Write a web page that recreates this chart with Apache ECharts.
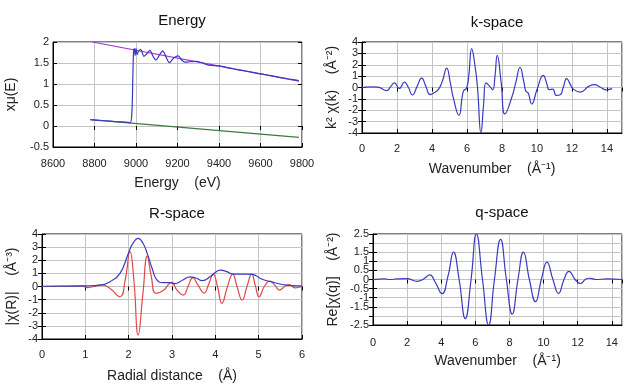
<!DOCTYPE html>
<html><head><meta charset="utf-8">
<script src="https://cdn.jsdelivr.net/npm/echarts@6/dist/echarts.min.js"></script>
<style>html,body{margin:0;padding:0;background:#fff}#c{width:640px;height:384px}</style>
</head><body><div id="c"></div>
<script>
// ---- Energy panel data ----
var energyE   = [8780,8850,8900,8950,8972,8980,8985,8988,8992,8996,9000,9005,9012,9023,9038,9052,9067,9082,9096,9112,9129,9145,9161,9182,9204,9220,9236,9260,9290,9320,9350,9400,9450,9500,9550,9600,9650,9700,9750,9785];
var energyMu  = [0.15,0.125,0.105,0.09,0.08,0.3,1.2,1.75,1.84,1.68,1.84,1.70,1.78,1.82,1.66,1.72,1.80,1.66,1.57,1.68,1.79,1.64,1.51,1.62,1.67,1.57,1.52,1.53,1.54,1.50,1.45,1.43,1.38,1.33,1.29,1.24,1.20,1.15,1.11,1.08];
var postE = [8790, 9785], postMu = [2.0, 1.07];
var preE  = [8780, 9785], preMu  = [0.15, -0.27];
// ---- k-space ----
var kK   = [0,0.5,0.9,1.41,1.65,1.85,2.13,2.42,2.65,2.88,3.15,3.41,3.65,3.89,4.1,4.36,4.6,4.84,5.05,5.22,5.54,5.79,5.98,6.1,6.27,6.45,6.6,6.8,6.95,7.09,7.3,7.47,7.6,7.73,7.95,8.17,8.55,8.8,9.03,9.25,9.37,9.5,9.7,10.0,10.36,10.55,10.7,10.9,11.1,11.33,11.5,11.7,11.9,12.05,12.47,12.96,13.3,13.6,13.94,14.3];
var kChi = [0,0.05,0.03,-0.28,0.1,0.4,-0.08,0.48,0,-0.66,0.1,0.83,0.1,-0.63,-0.48,-0.19,0.6,1.71,0.4,-0.92,-2.45,-0.34,-0.05,1.0,3.41,2.0,0,-4.0,-1.5,0.4,0.1,-0.2,1.0,2.83,0.5,-2.33,-0.92,0.5,1.78,0.5,-0.34,-0.48,-1.45,-0.2,1.07,0.4,-0.19,-0.14,-0.69,-0.63,0,0.78,0.3,-0.1,-0.4,0.1,0.25,0.05,-0.2,-0.1];
// ---- R-space ----
var rRe  = [0,0.5,0.9,1.06,1.25,1.38,1.57,1.8,1.92,2.03,2.12,2.22,2.33,2.43,2.52,2.63,2.8,2.99,3.12,3.26,3.37,3.48,3.6,3.74,3.85,3.95,4.05,4.15,4.28,4.4,4.5,4.62,4.73,4.84,4.92,5.01,5.13,5.26,5.37,5.48,5.6,5.7,5.84,6.0];
var chiRe= [0,0.02,0.05,-0.08,0.05,0.12,-0.15,-0.78,0.5,2.65,0.5,-3.7,-0.5,2.32,0.8,-0.52,-0.3,0.32,-0.3,-0.65,0,0.67,0.1,-0.5,0.2,0.95,0,-1.28,0,0.95,0,-1.03,0,0.95,0.1,-0.78,0,0.42,0.1,-0.27,0,0.15,-0.1,0];
var rMag = [0,0.5,1.0,1.34,1.57,1.8,1.99,2.1,2.22,2.33,2.43,2.55,2.65,2.8,2.95,3.06,3.25,3.42,3.55,3.7,3.9,4.12,4.25,4.4,4.7,4.85,5.08,5.3,5.54,5.77,6.0];
var chiMag=[0.02,0.03,0.05,0.1,0.37,1.0,2.5,3.3,3.67,3.3,2.5,1.3,0.5,0.3,0.3,0.22,0.5,0.74,0.65,0.45,0.8,1.25,1.15,0.95,0.95,0.93,0.55,0.35,0.15,0.07,0.05];
// ---- q-space ----
var qQ   = [0,0.7,1.0,1.4,1.98,2.6,2.8,3.0,3.33,3.65,4.05,4.4,4.72,5.05,5.41,5.75,6.06,6.42,6.78,7.12,7.48,7.82,8.16,8.5,8.82,9.17,9.53,9.87,10.2,10.55,10.88,11.2,11.49,11.85,12.16,12.45,12.7,13.1,13.7,14.6];
var qChi = [0,0.03,0,0.03,0.05,-0.1,-0.05,0.05,0.25,-0.15,-0.78,0.2,1.5,0,-2.15,0,2.5,0,-2.5,0,2.2,0,-1.9,0,1.5,0,-1.22,0,0.95,0,-0.76,0,0.45,0,-0.22,0,0.07,0,0.03,0];

function zip(a,b){return a.map(function(v,i){return [v,b[i]];});}
var FONT = 'Liberation Sans, Arial, sans-serif';
var grids = [
  {left:53, top:42, width:249, height:105},
  {left:362, top:42, width:260, height:91},
  {left:42, top:234, width:260, height:105},
  {left:373, top:234, width:249, height:91}
];
var xs = [
  {min:8600,max:9800,interval:200,name:'Energy    (eV)',gap:29,margin:11,showMax:true},
  {min:0,max:14.86,interval:2,name:'Wavenumber    (Å⁻¹)',gap:29,margin:10,showMax:false},
  {min:0,max:6,interval:1,name:'Radial distance    (Å)',gap:30,margin:10,showMax:true},
  {min:0,max:14.6,interval:2,name:'Wavenumber    (Å⁻¹)',gap:29,margin:12,showMax:false}
];
var ys = [
  {min:-0.5,max:2,interval:0.5,name:'xμ(E)',gap:35},
  {min:-4,max:4,interval:1,name:'k² χ(k)    (Å⁻²)',gap:23},
  {min:-4,max:4,interval:1,name:'|χ(R)|    (Å⁻³)',gap:23},
  {min:-2.5,max:2.5,interval:0.5,name:'Re[χ(q)]    (Å⁻²)',gap:33}
];
var xAxis=[], yAxis=[];
var lblStyle = {color:'#222', fontSize:11, fontFamily:FONT};
function fmt(v){return String(v);}
grids.forEach(function(g,i){
  g.show=true; g.borderColor='#000'; g.borderWidth=1; g.backgroundColor='transparent';
  var X=xs[i], Y=ys[i];
  xAxis.push({type:'value',gridIndex:i,min:X.min,max:X.max,interval:X.interval,
    name:X.name,nameLocation:'middle',nameGap:X.gap,
    nameTextStyle:{color:'#222',fontSize:14,fontFamily:FONT},
    axisLine:{show:true,onZero:false,lineStyle:{color:'#000'}},
    axisTick:{show:true,inside:true,length:4,lineStyle:{color:'#000'}},
    axisLabel:Object.assign({margin:X.margin,showMinLabel:true,showMaxLabel:X.showMax,formatter:fmt},lblStyle),
    splitLine:{show:true,lineStyle:{color:'#c4c4c4',width:1}}});
  yAxis.push({type:'value',gridIndex:i,min:Y.min,max:Y.max,interval:Y.interval,
    name:Y.name,nameLocation:'middle',nameGap:Y.gap,nameRotate:90,
    nameTextStyle:{color:'#222',fontSize:14,fontFamily:FONT},
    axisLine:{show:true,onZero:false,lineStyle:{color:'#000'}},
    axisTick:{show:true,inside:true,length:4,lineStyle:{color:'#000'}},
    axisLabel:Object.assign({margin:4,showMinLabel:true,showMaxLabel:true,hideOverlap:false,formatter:fmt},lblStyle),
    splitLine:{show:true,lineStyle:{color:'#c4c4c4',width:1}}});
});
// mirror ticks
grids.forEach(function(g,i){
  var X=xs[i], Y=ys[i];
  xAxis.push({type:'value',gridIndex:i,position:'top',min:X.min,max:X.max,interval:X.interval,
    axisLine:{show:false},axisTick:{show:true,inside:true,length:4,lineStyle:{color:'#000'}},
    axisLabel:{show:false},splitLine:{show:false}});
  yAxis.push({type:'value',gridIndex:i,position:'right',min:Y.min,max:Y.max,interval:Y.interval,
    axisLine:{show:false},axisTick:{show:true,inside:true,length:4,lineStyle:{color:'#000'}},
    axisLabel:{show:false},splitLine:{show:false}});
});
function line(gi,data,color,smooth,z){
  return {type:'line',xAxisIndex:gi,yAxisIndex:gi,data:data,showSymbol:false,symbol:'none',
    smooth:smooth,lineStyle:{color:color,width:1.2},z:z||2,animation:false};
}
var BLUE='#3a3ac0', RED='#e04848', PURPLE='#a035d5', GREEN='#3d7a3d';
var titleStyle={color:'#111',fontSize:15,fontWeight:'normal',fontFamily:FONT};
var option={
  animation:false,
  title:[
    {text:'Energy',left:177,top:8,textAlign:'center',textStyle:titleStyle},
    {text:'k-space',left:492,top:10,textAlign:'center',textStyle:titleStyle},
    {text:'R-space',left:172,top:201,textAlign:'center',textStyle:titleStyle},
    {text:'q-space',left:497,top:200,textAlign:'center',textStyle:titleStyle}
  ],
  grid:grids, xAxis:xAxis, yAxis:yAxis,
  series:[
    line(0,zip(preE,preMu),GREEN,false,2),
    line(0,zip(postE,postMu),PURPLE,false,2),
    line(0,zip(energyE,energyMu),BLUE,0.3,3),
    line(1,zip(kK,kChi),BLUE,0.5,2),
    line(2,zip(rRe,chiRe),RED,0.5,2),
    line(2,zip(rMag,chiMag),BLUE,0.5,3),
    line(3,zip(qQ,qChi),BLUE,0.5,2)
  ]
};
var chart=echarts.init(document.getElementById('c'),null,{renderer:'canvas'});
chart.setOption(option);
</script></body></html>
